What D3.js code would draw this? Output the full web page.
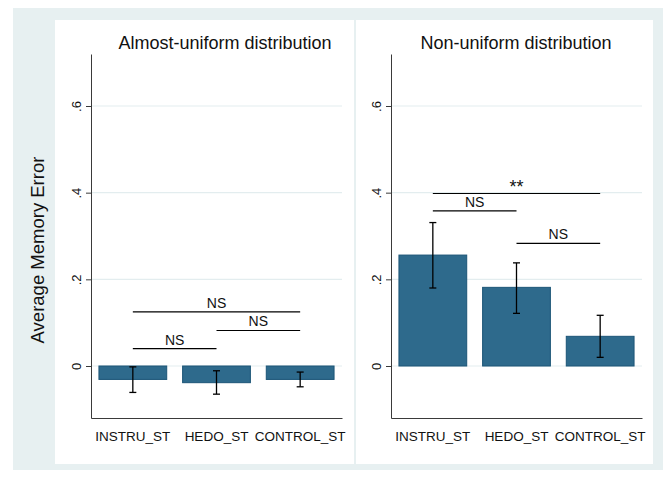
<!DOCTYPE html>
<html>
<head>
<meta charset="utf-8">
<script src="https://cdn.jsdelivr.net/npm/d3@7"></script>
<style>
  html, body { margin: 0; padding: 0; background: #ffffff; }
  svg { display: block; font-family: "Liberation Sans", Arial, Helvetica, sans-serif; }
</style>
</head>
<body>
<svg id="chart" width="669" height="477"></svg>
<script>
// ---------------- data ----------------
const categories = ["INSTRU_ST", "HEDO_ST", "CONTROL_ST"];
const panelTitles = ["Almost-uniform distribution", "Non-uniform distribution"];
const yAxisTitle = "Average Memory Error";

const uniformMeans = [-0.031, -0.0385, -0.031];
const uniformLow   = [-0.061, -0.065, -0.048];
const uniformHigh  = [-0.002, -0.011, -0.014];

const nonUniformMeans = [0.256, 0.1815, 0.0685];
const nonUniformLow   = [0.180, 0.1215, 0.020];
const nonUniformHigh  = [0.331, 0.238, 0.117];

const yTicks = [0, 0.2, 0.4, 0.6];
const yTickLabels = ["0", ".2", ".4", ".6"];
const yDomain = [-0.12, 0.72];

// pairwise comparisons: from index, to index, height, label
const uniformFrom   = [0, 1, 0];
const uniformTo     = [2, 2, 1];
const uniformLevel  = [0.125, 0.082, 0.040];
const uniformLabel  = ["NS", "NS", "NS"];

const nonUniformFrom  = [0, 0, 1];
const nonUniformTo    = [2, 1, 2];
const nonUniformLevel = [0.398, 0.358, 0.283];
const nonUniformLabel = ["**", "NS", "NS"];

// ---------------- layout ----------------
const svg = d3.select("#chart");
const BG = "#e7f0f1";
const GRID = "#e3edef";
const BAR = "#2e6a8c";
const BAR_EDGE = "#1c5577";
const AXIS = "#3a3a3a";

svg.append("rect").attr("x", 13).attr("y", 8).attr("width", 650).attr("height", 462).attr("fill", BG);

const panels = [
  { x0: 55, x1: 354, plotX: [91, 342], titleX: 225,
    means: uniformMeans, low: uniformLow, high: uniformHigh,
    from: uniformFrom, to: uniformTo, level: uniformLevel, label: uniformLabel },
  { x0: 356, x1: 653, plotX: [391, 642], titleX: 516,
    means: nonUniformMeans, low: nonUniformLow, high: nonUniformHigh,
    from: nonUniformFrom, to: nonUniformTo, level: nonUniformLevel, label: nonUniformLabel }
];

const panelTop = 20, panelBottom = 464;
const plotTop = 54, plotBottom = 418;

const y = d3.scaleLinear().domain(yDomain).range([plotBottom, plotTop]);

panels.forEach((p, i) => {
  const g = svg.append("g");
  g.append("rect").attr("x", p.x0).attr("y", panelTop)
    .attr("width", p.x1 - p.x0).attr("height", panelBottom - panelTop).attr("fill", "#ffffff");

  const x = d3.scaleBand().domain(categories).range(p.plotX)
    .paddingInner(0.19).paddingOuter(0.095);

  // gridlines
  g.append("g").selectAll("line").data(yTicks).join("line")
    .attr("x1", p.plotX[0]).attr("x2", p.plotX[1])
    .attr("y1", d => y(d)).attr("y2", d => y(d))
    .attr("stroke", GRID).attr("stroke-width", 1.2);

  // title
  g.append("text").attr("x", p.titleX).attr("y", 49)
    .attr("text-anchor", "middle").attr("font-size", 18).attr("fill", "#111")
    .text(panelTitles[i]);

  // bars
  g.append("g").selectAll("rect").data(categories).join("rect")
    .attr("x", d => x(d)).attr("width", x.bandwidth())
    .attr("y", (d, k) => Math.min(y(p.means[k]), y(0)))
    .attr("height", (d, k) => Math.abs(y(p.means[k]) - y(0)))
    .attr("fill", BAR).attr("stroke", BAR_EDGE).attr("stroke-width", 1);

  // error bars
  const eb = g.append("g").attr("stroke", "#000").attr("stroke-width", 1.3).attr("fill", "none");
  categories.forEach((c, k) => {
    const cx = x(c) + x.bandwidth() / 2;
    eb.append("line").attr("x1", cx).attr("x2", cx).attr("y1", y(p.low[k])).attr("y2", y(p.high[k]));
    eb.append("line").attr("x1", cx - 3.5).attr("x2", cx + 3.5).attr("y1", y(p.low[k])).attr("y2", y(p.low[k]));
    eb.append("line").attr("x1", cx - 3.5).attr("x2", cx + 3.5).attr("y1", y(p.high[k])).attr("y2", y(p.high[k]));
  });

  // comparison lines
  p.from.forEach((f, k) => {
    const xa = x(categories[f]) + x.bandwidth() / 2;
    const xb = x(categories[p.to[k]]) + x.bandwidth() / 2;
    const yy = y(p.level[k]);
    const isStar = p.label[k].indexOf("*") >= 0;
    g.append("line").attr("x1", xa).attr("x2", xb).attr("y1", yy).attr("y2", yy)
      .attr("stroke", "#000").attr("stroke-width", 1.1);
    g.append("text").attr("x", (xa + xb) / 2).attr("y", isStar ? yy - 1 : yy - 4)
      .attr("text-anchor", "middle").attr("font-size", isStar ? 18 : 14).attr("fill", "#111")
      .text(p.label[k]);
  });

  // y axis
  const yAxis = d3.axisLeft(y).tickValues(yTicks).tickFormat((d, k) => yTickLabels[k])
    .tickSize(5).tickSizeOuter(0);
  const ya = g.append("g").attr("transform", `translate(${p.plotX[0]},0)`).call(yAxis);
  ya.select(".domain").attr("stroke", AXIS);
  ya.selectAll(".tick line").attr("stroke", AXIS);
  ya.selectAll(".tick text")
    .attr("font-size", 13).attr("fill", "#111").attr("font-family", "Liberation Sans, Arial, sans-serif")
    .attr("x", null).attr("dy", null).attr("text-anchor", "middle")
    .attr("transform", "translate(-10,0) rotate(-90)");

  // x axis
  const xAxis = d3.axisBottom(x).tickSize(0).tickSizeOuter(0).tickPadding(13);
  const xa = g.append("g").attr("transform", `translate(0,${plotBottom})`).call(xAxis);
  xa.select(".domain").attr("stroke", AXIS);
  xa.selectAll(".tick text").attr("font-size", 13.5).attr("fill", "#111")
    .attr("font-family", "Liberation Sans, Arial, sans-serif");
});

// shared y-axis title
svg.append("text").attr("transform", "translate(44,250) rotate(-90)")
  .attr("text-anchor", "middle").attr("font-size", 18.5).attr("fill", "#111")
  .text(yAxisTitle);
</script>
</body>
</html>
